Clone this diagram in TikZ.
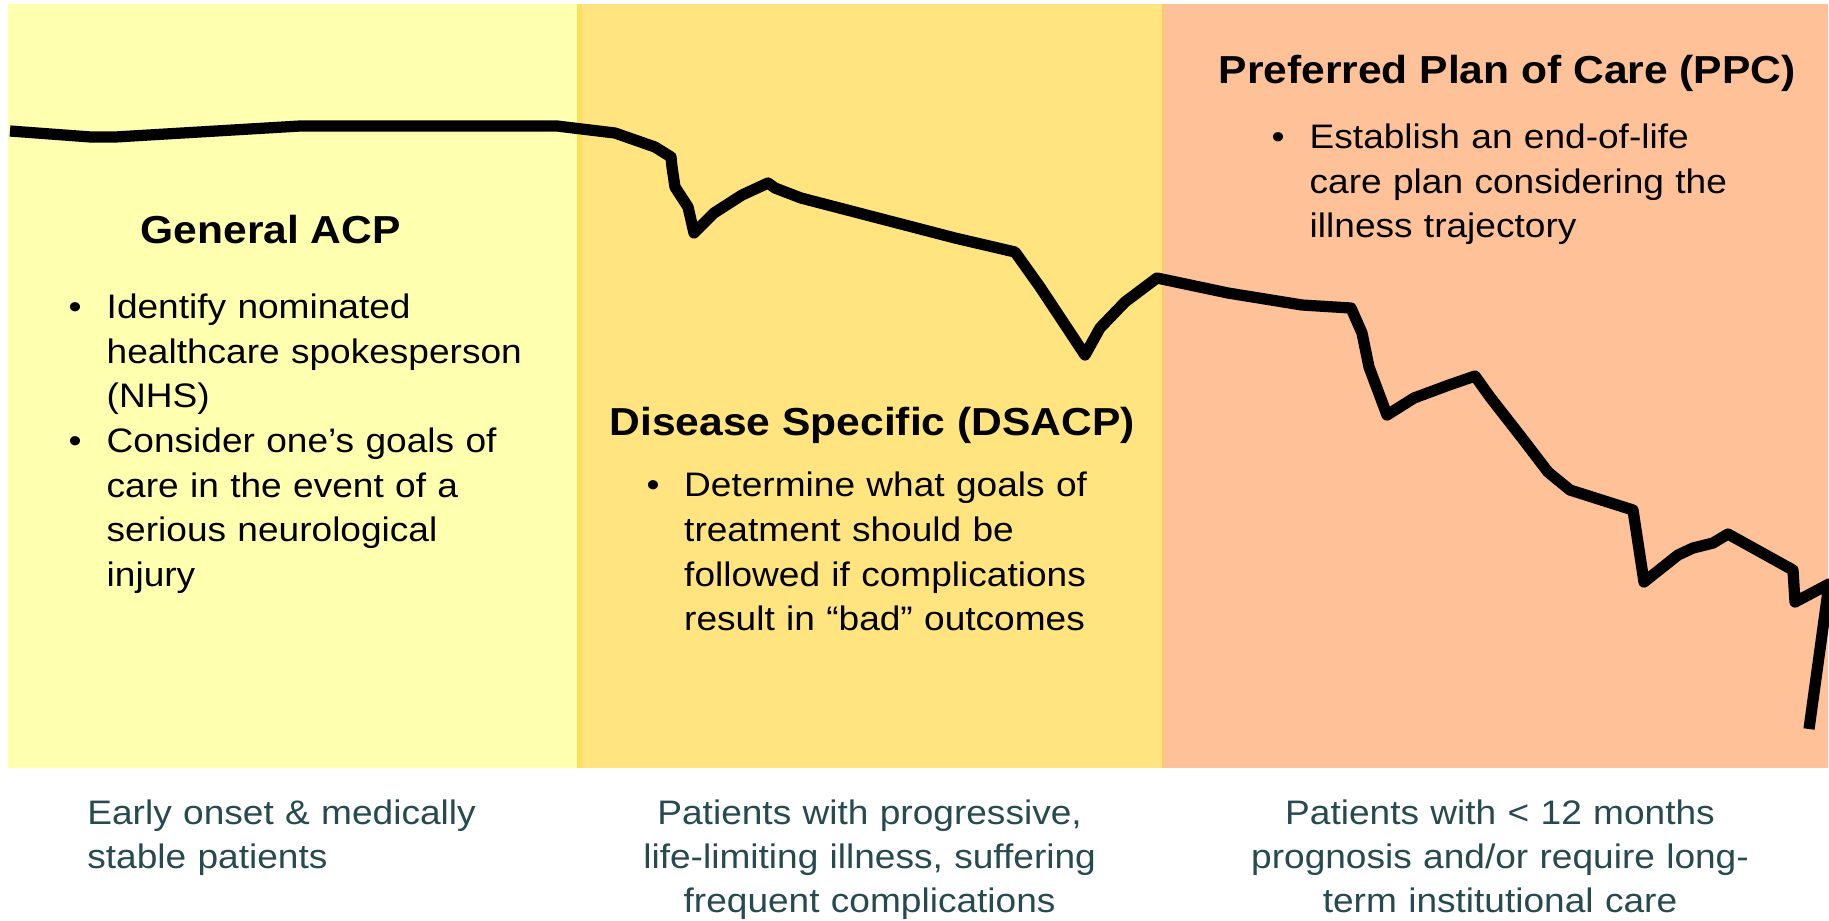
\documentclass[tikz,border=0pt]{standalone}
\usepackage{fontspec}
\setmainfont[FakeStretch=1.09]{Liberation Sans}
\usepackage{tikz}

\definecolor{acpyellow}{RGB}{255,255,176}
\definecolor{dsacpgold}{RGB}{255,228,128}
\definecolor{ppcpeach}{RGB}{255,193,152}
\definecolor{seamgold}{RGB}{255,222,90}
\definecolor{seampeach}{RGB}{250,200,110}
\definecolor{footteal}{RGB}{38,74,77}

\tikzset{
  heading/.style={inner sep=0pt, anchor=base west, font=\fontsize{11.1pt}{13pt}\selectfont\bfseries},
  bullet/.style={inner sep=0pt, anchor=base, font=\fontsize{9.67pt}{12.72pt}\selectfont},
  bodytext/.style={inner sep=0pt, anchor=base west, text width=4.6cm, align=left, font=\fontsize{9.67pt}{12.72pt}\selectfont},
  foottext/.style={inner sep=0pt, anchor=base, text width=5cm, align=center, text=footteal, font=\fontsize{9.67pt}{12.5pt}\selectfont},
}

\begin{document}
\begin{tikzpicture}[x=0.01cm, y=-0.01cm]
\useasboundingbox (0,0) rectangle (1829,920);

% the three phases
\fill[acpyellow] (8,4) rectangle (580,768);
\fill[dsacpgold] (580,4) rectangle (1163,768);
\fill[ppcpeach] (1163,4) rectangle (1828,768);
\fill[seamgold] (577,4) rectangle (582,768);
\draw[seampeach, line width=0.4pt] (1163,4) -- (1163,768);

% illness trajectory
\draw[line width=3.2pt, line join=round] (10,131) -- (91,137) -- (115,137) -- (300,126) -- (557,126)
  -- (615,133) -- (655,147) -- (671,157) -- (672,167) -- (675,187) -- (688,207) -- (694,233)
  -- (714,213) -- (742,195) -- (768,183) -- (775,188) -- (801,198) -- (955,238) -- (1015,252)
  -- (1040,287) -- (1085,355) -- (1100,328) -- (1125,302) -- (1157,278) -- (1228,293)
  -- (1302,305) -- (1351,308) -- (1362,333) -- (1369,367) -- (1387,415) -- (1414,398)
  -- (1449,385) -- (1475,376) -- (1490,397) -- (1522,438) -- (1548,472) -- (1570,490)
  -- (1633,510) -- (1644,582) -- (1678,555) -- (1693,548) -- (1713,543) -- (1728,534)
  -- (1793,570) -- (1795,602) -- (1829,584) -- (1809,729);

% General ACP
\node[heading] (acp) at (140,243.3) {General ACP};
\node[bullet] (acp-b1) at (75,318.3) {•};
\node[bodytext] (acp-a) at (106,318.3) {Identify nominated\\healthcare spokesperson\\(NHS)};
\node[bullet] (acp-b2) at (75,452.5) {•};
\node[bodytext] (acp-b) at (106,452.5) {Consider one’s goals of\\care in the event of a\\serious neurological\\injury};

% Disease specific
\node[heading] (dsacp) at (609,435) {Disease Specific (DSACP)};
\node[bullet] (dsacp-b1) at (653,496.7) {•};
\node[bodytext] (dsacp-a) at (683.5,496.7) {Determine what goals of\\treatment should be\\followed if complications\\result in “bad” outcomes};

% Preferred plan of care
\node[heading] (ppc) at (1218,83.3) {Preferred Plan of Care (PPC)};
\node[bullet] (ppc-b1) at (1278,148.3) {•};
\node[bodytext] (ppc-a) at (1309,148.3) {Establish an end-of-life\\care plan considering the\\illness trajectory};

% patient groups
\node[foottext, anchor=base west, align=left] (early) at (86.7,824.3) {Early onset \& medically\\stable patients};
\node[foottext] (progressive) at (869.6,824.3) {Patients with progressive,\\life-limiting illness, suffering\\frequent complications};
\node[foottext] (terminal) at (1500,824.3) {Patients with < 12 months\\prognosis and/or require long-\\term institutional care};
\end{tikzpicture}
\end{document}
